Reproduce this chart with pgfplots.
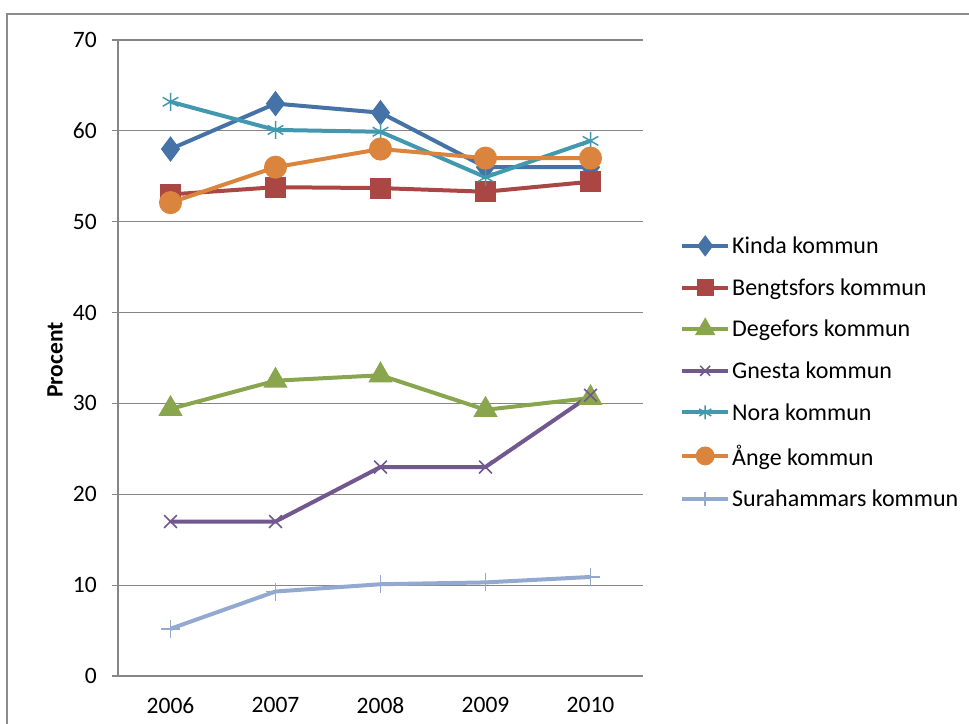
\documentclass[border=0pt]{standalone}
\usepackage{fontspec}
\setmainfont{Carlito}
\usepackage{pgfplots}
\pgfplotsset{compat=1.18}
\definecolor{cKinda}{RGB}{69,114,167}
\definecolor{cBengt}{RGB}{170,70,67}
\definecolor{cDege}{RGB}{137,165,78}
\definecolor{cGnesta}{RGB}{113,88,143}
\definecolor{cNora}{RGB}{65,152,175}
\definecolor{cAnge}{RGB}{219,132,61}
\definecolor{cSura}{RGB}{147,169,207}
\definecolor{cGrid}{RGB}{134,134,134}
\definecolor{cFrame}{RGB}{140,140,140}
\begin{document}
\begin{tikzpicture}
\useasboundingbox (0,0) rectangle (969bp,724bp);
\draw[cFrame, line width=2bp] (7bp,-2bp) -- (7bp,710bp) -- (971bp,710bp);
\begin{axis}[
  at={(118bp,48bp)}, anchor=south west,
  scale only axis, width=525bp, height=636bp,
  xmin=-0.5, xmax=4.5, ymin=0, ymax=70,
  xtick={0,1,2,3,4}, xticklabels={2006,2007,2008,2009,2010},
  ytick={0,10,...,70},
  axis x line*=bottom, axis y line*=left,
  axis line style={cGrid, line width=1.2bp},
  ymajorgrids, grid style={cGrid, line width=1.2bp},
  xtick style={draw=none},
  ytick style={cGrid, line width=1.2bp},
  tick align=outside, major tick length=6bp,
  font=\fontsize{23.5bp}{28bp}\selectfont,
  /pgf/number format/assume math mode=true,
  yticklabel style={inner sep=0pt, anchor=east, xshift=-15bp},
  xticklabel style={inner sep=0pt, anchor=north, yshift=-15bp},
  ylabel={\bfseries Procent},
  ylabel style={at={(axis description cs:-0.12,0.497)}, anchor=center},
  legend style={at={(1.0705,0.694)}, anchor=north west, draw=none, fill=none,
    font=\fontsize{24bp}{28bp}\selectfont, inner sep=0pt,
    row sep=19.5bp, cells={anchor=west}},
  legend image code/.code={\draw[mark repeat=2,mark phase=2,#1, every mark/.append style={scale=0.78}] plot coordinates {(0bp,0bp) (23bp,0bp) (46bp,0bp)};},
  every axis plot/.append style={line width=4bp},
]
\addplot[cKinda, mark=diamond*, mark size=9.5bp, mark options={solid}] coordinates {(0,58) (1,63) (2,62) (3,56) (4,56)};
\addlegendentry{Kinda kommun}
\addplot[cBengt, mark=square*, mark size=8.5bp, mark options={solid}] coordinates {(0,53) (1,53.8) (2,53.7) (3,53.3) (4,54.4)};
\addlegendentry{Bengtsfors kommun}
\addplot[cDege, mark=triangle*, mark size=10bp, mark options={solid}] coordinates {(0,29.4) (1,32.5) (2,33.1) (3,29.3) (4,30.6)};
\addlegendentry{Degefors kommun}
\addplot[cGnesta, mark=x, mark size=9bp, mark options={solid, line width=1.5bp}] coordinates {(0,17) (1,17) (2,23) (3,23) (4,30.9)};
\addlegendentry{Gnesta kommun}
\addplot[cNora, mark=asterisk, mark size=9bp, mark options={solid, line width=1.5bp}] coordinates {(0,63.2) (1,60.1) (2,59.9) (3,54.9) (4,58.9)};
\addlegendentry{Nora kommun}
\addplot[cAnge, mark=*, mark size=9.5bp, mark options={solid}] coordinates {(0,52.1) (1,56) (2,58) (3,57) (4,57)};
\addlegendentry{Ånge kommun}
\addplot[cSura, mark=+, mark size=9bp, mark options={solid, line width=1.5bp}] coordinates {(0,5.2) (1,9.3) (2,10.1) (3,10.3) (4,10.9)};
\addlegendentry{Surahammars kommun}
\end{axis}
\end{tikzpicture}
\end{document}
